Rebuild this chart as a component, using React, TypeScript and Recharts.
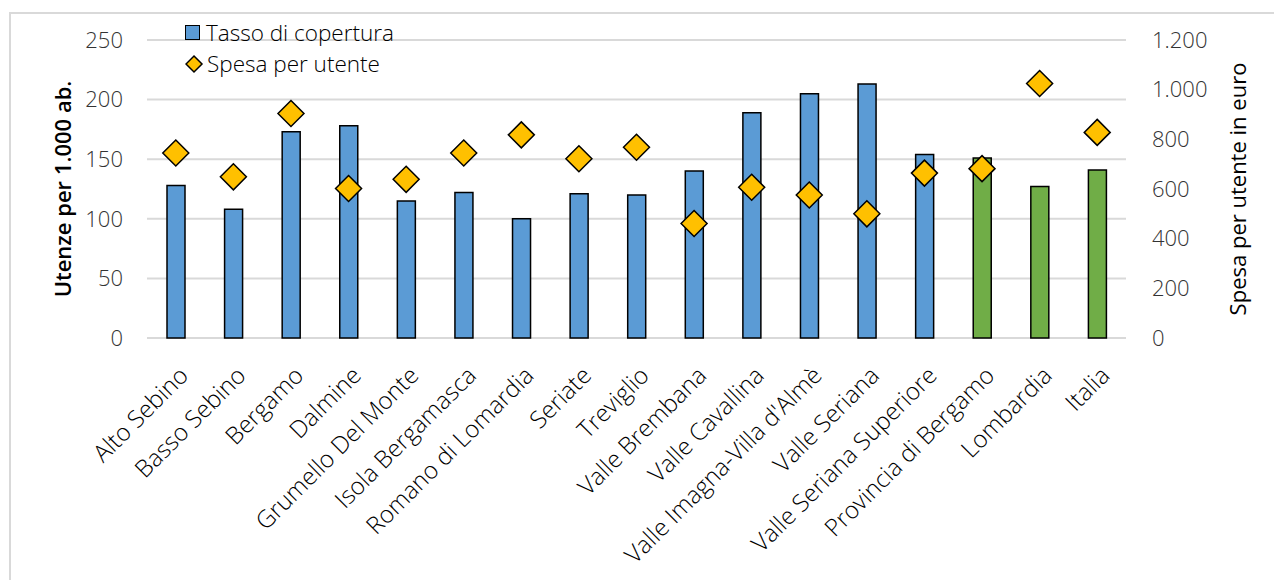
import React from "react";
import {
  ComposedChart,
  Bar,
  Line,
  Cell,
  XAxis,
  YAxis,
  CartesianGrid,
} from "recharts";

// ambiti territoriali + aggregati
const categories = [
  "Alto Sebino",
  "Basso Sebino",
  "Bergamo",
  "Dalmine",
  "Grumello Del Monte",
  "Isola Bergamasca",
  "Romano di Lomardia",
  "Seriate",
  "Treviglio",
  "Valle Brembana",
  "Valle Cavallina",
  "Valle Imagna-Villa d'Almè",
  "Valle Seriana",
  "Valle Seriana Superiore",
  "Provincia di Bergamo",
  "Lombardia",
  "Italia",
];
const aggregates = ["Provincia di Bergamo", "Lombardia", "Italia"];

// utenze per 1.000 ab.
const tassoCopertura = [
  128, 108, 173, 178, 115, 122, 100, 121, 120, 140, 189, 205, 213, 154, 151, 127, 141,
];
// spesa per utente in euro
const spesaUtente = [
  745, 649, 904, 602, 639, 745, 818, 722, 768, 461, 607, 576, 500, 664, 682, 1025, 828,
];

const leftTicks = [0, 50, 100, 150, 200, 250];
const rightTicks = [0, 200, 400, 600, 800, 1000, 1200];

const BLUE = "#5b9bd5";
const GREEN = "#70ad47";
const GOLD = "#ffc000";
const FONT = "'Open Sans', sans-serif";

const data = categories.map((name, i) => ({
  name,
  tasso: tassoCopertura[i],
  spesa: spesaUtente[i],
}));

const fmtIt = (v: number) => v.toLocaleString("it-IT").replace(/\s/g, ".");

const Diamond = ({ cx, cy, r = 13 }: { cx: number; cy: number; r?: number }) => (
  <path
    d={`M${cx},${cy - r}L${cx + r},${cy}L${cx},${cy + r}L${cx - r},${cy}Z`}
    fill={GOLD}
    stroke="#000"
    strokeWidth={1.5}
  />
);

const CategoryTick = (props: any) => {
  const { x, y, payload } = props;
  return (
    <g transform={`translate(${x + 8},${y + 25}) rotate(-45)`}>
      <text
        x={0}
        y={0}
        dy="0.35em"
        textAnchor="end"
        fill="#000"
        fontSize={24}
        fontWeight={300}
        fontFamily={FONT}
      >
        {payload.value}
      </text>
    </g>
  );
};

const LeftTitle = ({ viewBox }: any) => (
  <text
    transform={`translate(${viewBox.x - 25},${viewBox.y + viewBox.height / 2}) rotate(-90)`}
    textAnchor="middle"
    dominantBaseline="central"
    fontSize={22}
    fontWeight={600}
    fontFamily={FONT}
    fill="#000"
  >
    Utenze per 1.000 ab.
  </text>
);

const RightTitle = ({ viewBox }: any) => (
  <text
    transform={`translate(${viewBox.x + 111},${viewBox.y + viewBox.height / 2}) rotate(-90)`}
    textAnchor="middle"
    dominantBaseline="central"
    fontSize={22}
    fontFamily={FONT}
    fill="#000"
  >
    Spesa per utente in euro
  </text>
);

const LegendBox = () => (
  <div
    style={{
      position: "absolute",
      left: 185,
      top: 17,
      fontFamily: FONT,
      fontSize: 22.5,
      fontWeight: 300,
      color: "#000",
      lineHeight: "31px",
    }}
  >
    <div style={{ display: "flex", alignItems: "center" }}>
      <span
        style={{
          display: "inline-block",
          width: 13,
          height: 13,
          background: BLUE,
          border: "1.5px solid #000",
          marginRight: 6,
        }}
      />
      Tasso di copertura
    </div>
    <div style={{ display: "flex", alignItems: "center" }}>
      <svg width={19} height={20} style={{ marginRight: 3 }}>
        <Diamond cx={9} cy={10} r={8} />
      </svg>
      Spesa per utente
    </div>
  </div>
);

const tickStyle = { fill: "#333333", fontSize: 22, fontWeight: 300, fontFamily: FONT };

export default function App() {
  return (
    <div style={{ position: "absolute", left: 0, top: 0, width: 1274, height: 580, background: "#fff", overflow: "hidden" }}>
      <div
        style={{
          position: "absolute",
          left: 9,
          top: 12,
          width: 1300,
          height: 600,
          borderLeft: "2px solid #d9d9d9",
          borderTop: "2px solid #d9d9d9",
        }}
      />
      <ComposedChart
        width={1274}
        height={580}
        data={data}
        margin={{ top: 40, right: 88, left: 87, bottom: 42 }}
        style={{ position: "absolute", left: 0, top: 0, fontFamily: FONT }}
      >
        <CartesianGrid yAxisId="left" vertical={false} stroke="#d9d9d9" strokeWidth={2} />
        <XAxis
          dataKey="name"
          interval={0}
          height={200}
          axisLine={false}
          tickLine={false}
          tick={<CategoryTick />}
        />
        <YAxis
          yAxisId="left"
          width={60}
          domain={[0, 250]}
          ticks={leftTicks}
          axisLine={false}
          tickLine={false}
          tickSize={6}
          tickMargin={18}
          tick={tickStyle}
          label={<LeftTitle />}
        />
        <YAxis
          yAxisId="right"
          orientation="right"
          width={60}
          domain={[0, 1200]}
          ticks={rightTicks}
          tickFormatter={fmtIt}
          axisLine={false}
          tickLine={false}
          tickSize={6}
          tickMargin={20}
          tick={{ ...tickStyle, textAnchor: "start" }}
          label={<RightTitle />}
        />
        <Bar
          yAxisId="left"
          dataKey="tasso"
          name="Tasso di copertura"
          barSize={18}
          stroke="#000"
          strokeWidth={1.5}
          isAnimationActive={false}
        >
          {data.map((d) => (
            <Cell key={d.name} fill={aggregates.includes(d.name) ? GREEN : BLUE} />
          ))}
        </Bar>
        <Line
          yAxisId="right"
          dataKey="spesa"
          name="Spesa per utente"
          stroke="none"
          activeDot={false}
          isAnimationActive={false}
          dot={(p: any) => <Diamond key={`dm-${p.index}`} cx={p.cx} cy={p.cy} />}
        />
      </ComposedChart>
      <LegendBox />
    </div>
  );
}
